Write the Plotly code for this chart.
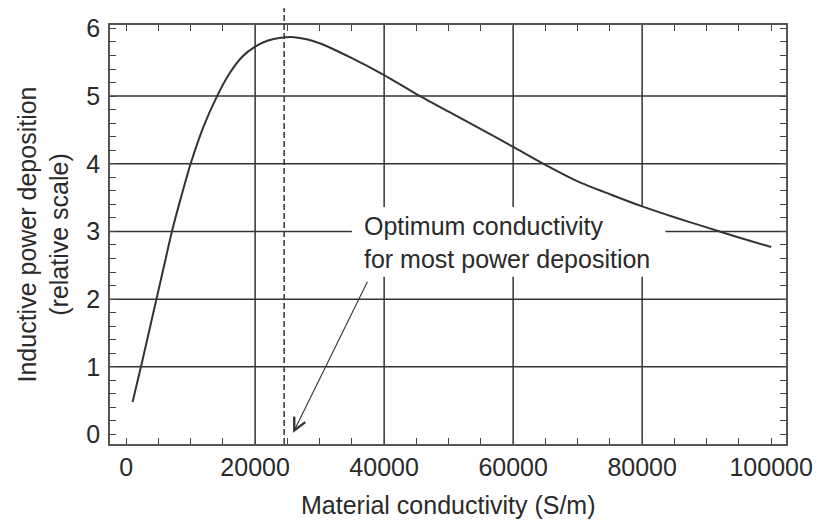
import plotly.graph_objects as go

# ---- data ----
conductivity = [1000, 2300, 3500, 4700, 5900, 7100, 8500, 10000, 12000, 14100, 16000, 18000,
                20000, 22000, 24000, 26000, 28000, 30000, 35000, 40000, 45000, 50000, 55000,
                60000, 64500, 70000, 75000, 80000, 85000, 90000, 95000, 100000]
power = [0.48, 1.0, 1.5, 2.0, 2.5, 3.0, 3.5, 4.0, 4.55, 5.0, 5.33, 5.58,
         5.73, 5.82, 5.86, 5.87, 5.84, 5.78, 5.56, 5.31, 5.03, 4.77, 4.51,
         4.25, 4.01, 3.74, 3.55, 3.37, 3.21, 3.06, 2.91, 2.77]

optimum_conductivity = 24500
x_tickvals = [0, 20000, 40000, 60000, 80000, 100000]
x_ticktext = ["0", "20000", "40000", "60000", "80000", "100000"]
y_tickvals = [0, 1, 2, 3, 4, 5, 6]
x_grid = [20000, 40000, 60000, 80000]
y_grid = [1, 2, 3, 4, 5]

INK = "#2a2a2a"
FONT = dict(family="Liberation Sans, Arial, sans-serif", size=25, color=INK)

fig = go.Figure()
fig.add_trace(go.Scatter(x=conductivity, y=power, mode="lines",
                         line=dict(color="#333333", width=2, shape="spline", smoothing=0.6),
                         hoverinfo="skip", showlegend=False))

shapes = []
for gx in x_grid:
    shapes.append(dict(type="line", xref="x", yref="paper", x0=gx, x1=gx, y0=0, y1=1,
                       line=dict(color="#333333", width=1.5), layer="between"))
for gy in y_grid:
    shapes.append(dict(type="line", xref="paper", yref="y", x0=0, x1=1, y0=gy, y1=gy,
                       line=dict(color="#333333", width=1.5), layer="between"))
# white background behind the annotation text
shapes.append(dict(type="rect", xref="x", yref="y", x0=35000, x1=83600, y0=2.33, y1=3.36,
                   fillcolor="white", line=dict(width=0), layer="between"))
# dashed line at the optimum
shapes.append(dict(type="line", xref="x", yref="paper", x0=optimum_conductivity,
                   x1=optimum_conductivity, y0=0, y1=1.043,
                   line=dict(color="#333333", width=1.5, dash="6px,3px"), layer="above"))

axis_common = dict(showline=True, linecolor="#555555", linewidth=1.5, mirror="ticks",
                   ticks="inside", ticklen=6, tickwidth=1.2, tickcolor="#444444",
                   showgrid=False, zeroline=False, tickfont=FONT)

fig.update_layout(
    width=824, height=514,
    margin=dict(l=102, r=46, t=17, b=78),
    paper_bgcolor="white", plot_bgcolor="white",
    shapes=shapes,
    xaxis=dict(range=[-2500, 102300], tickvals=x_tickvals, ticktext=x_ticktext,
               automargin=False,
               minor=dict(dtick=5000, tick0=0, ticks="inside", ticklen=6, tickwidth=1.2,
                          tickcolor="#444444", showgrid=False),
               **axis_common),
    yaxis=dict(range=[-0.14, 6.05], tickvals=y_tickvals, ticklabelstandoff=3,
               automargin=False,
               minor=dict(dtick=0.2, tick0=0, ticks="inside", ticklen=6, tickwidth=1.2,
                          tickcolor="#444444", showgrid=False),
               **axis_common),
    annotations=[
        dict(text="Optimum conductivity<br>for most power deposition", xref="x", yref="y",
             x=36600, y=2.83, xanchor="left", yanchor="middle", align="left",
             showarrow=False, font=FONT),
        dict(text="", xref="x", yref="y", x=25890, y=0.025, axref="x", ayref="y",
             ax=37520, ay=2.28, showarrow=True, arrowhead=5, arrowsize=2.2,
             arrowwidth=1.1, arrowcolor="#333333"),
        dict(text="Material conductivity (S/m)", xref="paper", yref="paper",
             x=0.5, y=-0.1456, xanchor="center", yanchor="middle", showarrow=False, font=FONT),
        dict(text="Inductive power deposition<br>(relative scale)", xref="paper", yref="paper",
             x=-0.0991, y=0.5, xanchor="center", yanchor="middle", textangle=-90,
             showarrow=False, font=FONT),
    ],
)

fig.write_html("out.html")
